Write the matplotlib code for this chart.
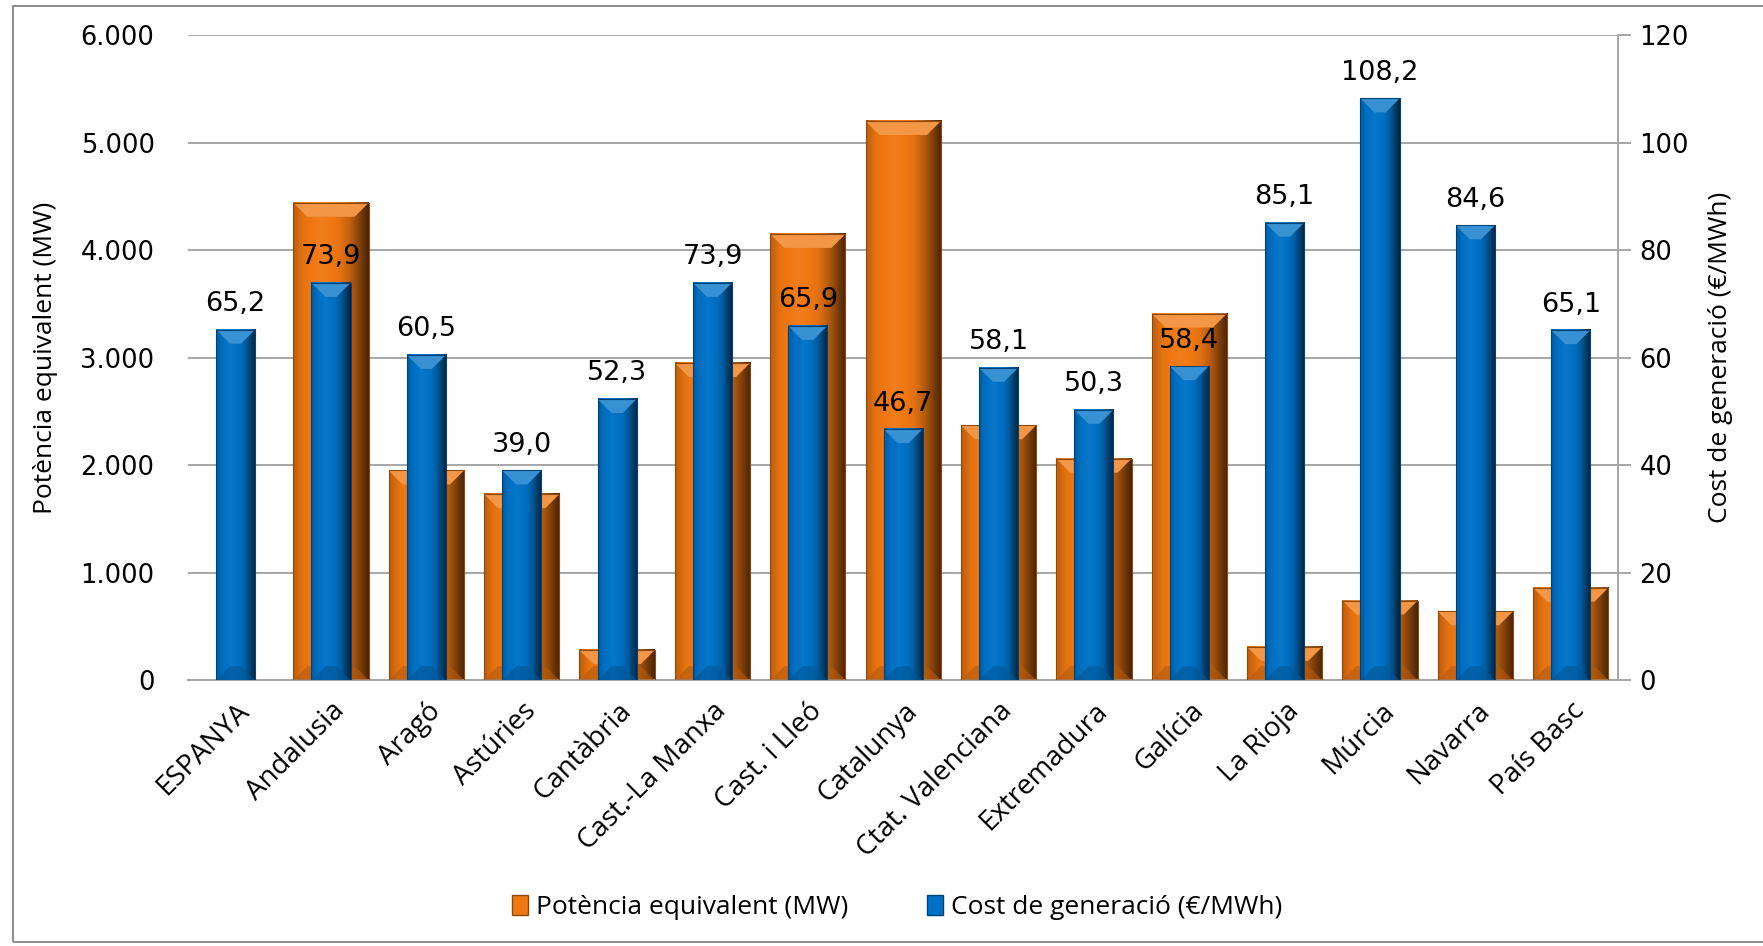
import numpy as np
import matplotlib
matplotlib.use("Agg")
import matplotlib.pyplot as plt
from matplotlib.patches import Patch, Polygon, Rectangle
from matplotlib.colors import to_rgb
from matplotlib.ticker import FuncFormatter, MultipleLocator

# dades
regions = ["ESPANYA", "Andalusia", "Aragó", "Astúries", "Cantàbria", "Cast.-La Manxa",
           "Cast. i Lleó", "Catalunya", "Ctat. Valenciana", "Extremadura", "Galícia",
           "La Rioja", "Múrcia", "Navarra", "País Basc"]
potencia = [0, 4440, 1950, 1730, 280, 2950, 4150, 5200, 2370, 2060, 3410, 310, 740, 640, 860]
cost = [65.2, 73.9, 60.5, 39.0, 52.3, 73.9, 65.9, 46.7, 58.1, 50.3, 58.4, 85.1, 108.2, 84.6, 65.1]

ORANGE = "#F07812"
BLUE = "#0072C6"
GRID = "#A6A6A6"
TXT_FONT = ["Open Sans", "DejaVu Sans"]
NUM_FONT = ["DejaVu Sans"]

W, H, DPI = 17.63, 9.46, 100


def shade(c, f):
    r = np.array(to_rgb(c))
    if f < 1:
        return tuple(r * f)
    return tuple(r + (1 - r) * (f - 1))


def bevel_bar(ax, x, w, h, color, px_x, px_y):
    # px_x / px_y: unitats de dades per píxel en aquest eix
    if h <= 0:
        return
    x0, x1 = x - w / 2, x + w / 2
    # degradat horitzontal: esquerra clara, dreta fosca
    prof = np.array([0.78, 0.95, 1.0, 1.04, 1.0, 0.95, 0.8, 0.55, 0.3])
    pos = np.linspace(0, 1, len(prof))
    xs = np.linspace(0, 1, 120)
    f = np.interp(xs, pos, prof)
    img = np.array([[shade(color, v) for v in f]])
    ax.imshow(img, extent=(x0, x1, 0, h), aspect="auto", zorder=2,
              interpolation="bilinear", origin="lower")
    b = 14
    bx = min(b * px_x, w / 2 * 0.9)
    by = min(b * px_y, h / 2)
    top = Polygon([(x0, h), (x1, h), (x1 - bx, h - by), (x0 + bx, h - by)],
                  closed=True, facecolor=shade(color, 1.22), edgecolor="none", zorder=3)
    ax.add_patch(top)
    bot = Polygon([(x0, 0), (x1, 0), (x1 - bx, by), (x0 + bx, by)],
                  closed=True, facecolor=shade(color, 0.75), edgecolor="none",
                  alpha=0.6, zorder=3)
    ax.add_patch(bot)
    ax.add_patch(Rectangle((x0, 0), w, h, facecolor="none",
                           edgecolor=shade(color, 0.6), linewidth=0.8, zorder=3))


fig = plt.figure(figsize=(W, H), dpi=DPI)
left, right, bottom, top = 0.1066, 0.918, 0.281, 0.963
ax = fig.add_axes([left, bottom, right - left, top - bottom])
ax2 = ax.twinx()

n = len(regions)
xpos = np.arange(n)
w_or, w_bl = 0.79, 0.41
ax_w_px = (right - left) * W * DPI
ax_h_px = (top - bottom) * H * DPI
px_x = n / ax_w_px

for i in range(n):
    bevel_bar(ax, xpos[i], w_or, potencia[i], ORANGE, px_x, 6000 / ax_h_px)
    bevel_bar(ax2, xpos[i], w_bl, cost[i], BLUE, px_x, 120 / ax_h_px)
    ax2.annotate(f"{cost[i]:.1f}".replace(".", ","), (xpos[i], cost[i]),
                 xytext=(0, 9), textcoords="offset points", ha="center", va="bottom",
                 fontsize=19.5, family=NUM_FONT, zorder=5)

ax.set_xlim(-0.5, n - 0.5)
ax.set_ylim(0, 6000)
ax2.set_ylim(0, 120)
ax.yaxis.set_major_locator(MultipleLocator(1000))
ax2.yaxis.set_major_locator(MultipleLocator(20))
ax.yaxis.set_major_formatter(FuncFormatter(lambda v, p: f"{int(v):,}".replace(",", ".")))

ax.grid(axis="y", color=GRID, linewidth=1.4)
ax.set_axisbelow(True)
for s in ["top", "left", "right"]:
    ax.spines[s].set_visible(False)
for s in ["top", "left"]:
    ax2.spines[s].set_visible(False)
ax.spines["bottom"].set_color(GRID)
ax.spines["bottom"].set_linewidth(1.4)
ax2.spines["right"].set_color(GRID)
ax2.spines["right"].set_linewidth(1.4)
ax2.spines["bottom"].set_visible(False)

ax.tick_params(axis="y", length=0, pad=24, labelsize=18.5)
ax2.tick_params(axis="y", length=9, width=1.4, color=GRID, pad=6, labelsize=18.5)
for lab in ax.get_yticklabels() + ax2.get_yticklabels():
    lab.set_family(NUM_FONT)

ax.set_xticks(xpos)
ax.set_xticklabels(regions, rotation=45, ha="right", rotation_mode="anchor",
                   fontsize=20, family=TXT_FONT)
ax.tick_params(axis="x", length=0, pad=12)

ax.set_ylabel("Potència equivalent (MW)", fontsize=19, family=TXT_FONT, labelpad=16)
ax2.set_ylabel("Cost de generació (€/MWh)", fontsize=19, family=TXT_FONT, labelpad=14)

handles = [Patch(facecolor=ORANGE, edgecolor=shade(ORANGE, 0.6)),
           Patch(facecolor=BLUE, edgecolor=shade(BLUE, 0.6))]
fig.legend(handles, ["Potència equivalent (MW)", "Cost de generació (€/MWh)"],
           loc="center", bbox_to_anchor=(0.509, 0.041), ncol=2, frameon=False,
           prop={"family": TXT_FONT, "size": 19}, handlelength=0.6, handleheight=0.8,
           handletextpad=0.3, columnspacing=3.0)

# marc del gràfic
fig.patches.append(Rectangle((13 / 1763, 0.004), 1.2, 0.99, transform=fig.transFigure,
                             facecolor="none", edgecolor="#8C8C8C", linewidth=1.4))

fig.savefig("out.png", dpi=DPI)
